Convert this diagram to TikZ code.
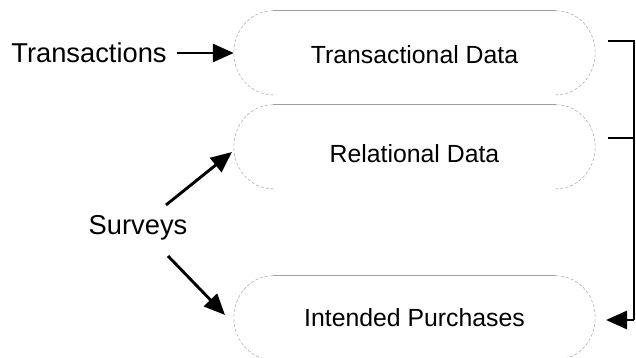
\documentclass[tikz,border=0pt]{standalone}
\usepackage{fontspec}
\setmainfont{Liberation Sans}
\usepackage{tikz}
\usetikzlibrary{arrows.meta,%
                calc,positioning}

\tikzset{
  capsule/.style={minimum width=361pt,minimum height=84pt,inner sep=0pt,
                  font=\fontsize{24.8}{29}\selectfont},
  label/.style={inner sep=0pt,font=\fontsize{27.3}{32}\selectfont},
  boxtop/.style={draw=gray!75,line width=0.8pt},
  boxside/.style={draw=gray!60,line width=0.6pt,dash pattern=on 3pt off 2pt},
  flow/.style={line width=2.9pt,-{Triangle[length=21pt,width=18pt]}},
  link/.style={line width=2.9pt}
}

% outline of a capsule node: solid top, dashed ends
\newcommand{\capsuleline}[1]{%
  \draw[boxtop] ($(#1.north west)+(39,0)$)--($(#1.north east)+(-39,0)$);
  \draw[boxside] ($(#1.north east)+(-39,0)$) arc[start angle=90,end angle=-90,x radius=39,y radius=42];
  \draw[boxside] ($(#1.north west)+(39,0)$) arc[start angle=90,end angle=270,x radius=39,y radius=42];
}

\begin{document}
\begin{tikzpicture}[x=1pt,y=1pt]
\useasboundingbox (0,0) rectangle (636,358);

\node[capsule] (trans) at (414.5,305) {\raisebox{-11pt}[0pt][0pt]{Transactional Data}};
\node[capsule] (rel)   at (414.5,211) {\raisebox{-15.5pt}[0pt][0pt]{Relational Data}};
\node[capsule] (int)   at (414.5,40)  {\raisebox{-8.5pt}[0pt][0pt]{Intended Purchases}};
\capsuleline{trans}
\capsuleline{rel}
\capsuleline{int}

\node[label] (transactions) at (89,305) {Transactions};
\node[label] (surveys) at (138,130) {Surveys};

\draw[flow] (transactions.east)++(10,0) -- (trans.west);
\coordinate (su) at (166,153);
\coordinate (sd) at (168,102);
\draw[flow] (su) -- (232,206);
\draw[flow] (sd) -- (225,43);

% bracket on the right
\coordinate (b1) at (608,317);
\coordinate (b2) at (608,220);
\coordinate (c1) at (634,317);
\coordinate (c2) at (634,220);
\coordinate (c3) at (634,38);
\draw[link] (b1) -- (c1) -- (c3);
\draw[link] (b2) -- (c2);
\draw[flow] (c3) -- (606,38);
\end{tikzpicture}
\end{document}
